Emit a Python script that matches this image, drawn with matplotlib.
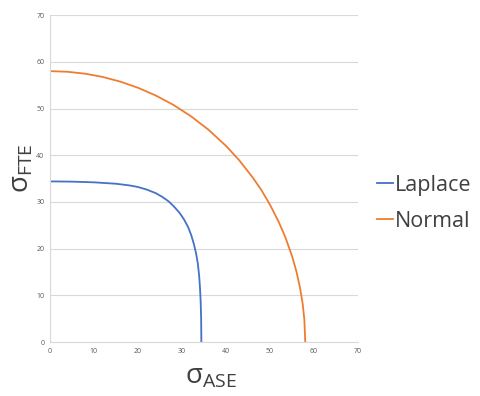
import matplotlib.pyplot as plt

plt.rcParams['font.family'] = ['Open Sans', 'DejaVu Sans']
plt.rcParams['mathtext.fontset'] = 'custom'
plt.rcParams['mathtext.rm'] = 'Open Sans'

# valores
laplace_x = [0, 5, 10, 15, 18, 20, 22, 24, 25.5, 27, 28.3, 29.5, 30.5, 31.4, 32.1, 32.7, 33.2, 33.6, 33.9, 34.1, 34.25, 34.35, 34.4]
laplace_y = [34.4, 34.35, 34.2, 33.9, 33.55, 33.2, 32.65, 31.9, 31.1, 30.1, 28.9, 27.6, 26.2, 24.6, 22.9, 21.0, 19.0, 16.8, 14.2, 11.5, 8.5, 5, 0]

normal_x = [0, 4, 8, 12, 16, 20, 24, 28, 32, 36, 40, 43, 46, 48, 50, 52, 53.5, 55, 56, 56.8, 57.4, 57.8, 58]
normal_y = [58, 57.86, 57.45, 56.75, 55.75, 54.44, 52.8, 50.8, 48.37, 45.47, 42.0, 38.92, 35.32, 32.6, 29.39, 25.69, 22.39, 18.41, 15.1, 11.7, 8.33, 4.81, 0]

ticks = [0, 10, 20, 30, 40, 50, 60, 70]

fig = plt.figure(figsize=(4.8, 3.96), dpi=100)
ax = fig.add_axes([0.104, 0.136, 0.642, 0.826])

ax.plot(laplace_x, laplace_y, color='#4472C4', lw=1.3, label='Laplace')
ax.plot(normal_x, normal_y, color='#ED7D31', lw=1.3, label='Normal')

ax.set_xlim(0, 70)
ax.set_ylim(0, 70)
ax.set_xticks(ticks)
ax.set_yticks(ticks)
ax.tick_params(length=0, labelsize=5, labelcolor='#595959', pad=4)
ax.grid(axis='y', color='#d9d9d9', lw=0.8)
ax.set_axisbelow(True)
for s in ['top', 'right']:
    ax.spines[s].set_visible(False)
for s in ['left', 'bottom']:
    ax.spines[s].set_color('#d9d9d9')

fig.text(0.44, 0.05, r'σ$_{\mathrm{ASE}}$', fontsize=20, color='#404040', ha='center', va='center')
fig.text(0.045, 0.575, r'σ$_{\mathrm{FTE}}$', fontsize=20, color='#404040', ha='center', va='center', rotation=90)

ax.legend(loc='center left', bbox_to_anchor=(1.06, 0.425), frameon=False, fontsize=15.5,
          handlelength=0.75, handletextpad=0.1, labelcolor='#404040', labelspacing=0.7,
          borderaxespad=0, borderpad=0)

fig.savefig('out.png', dpi=100)
